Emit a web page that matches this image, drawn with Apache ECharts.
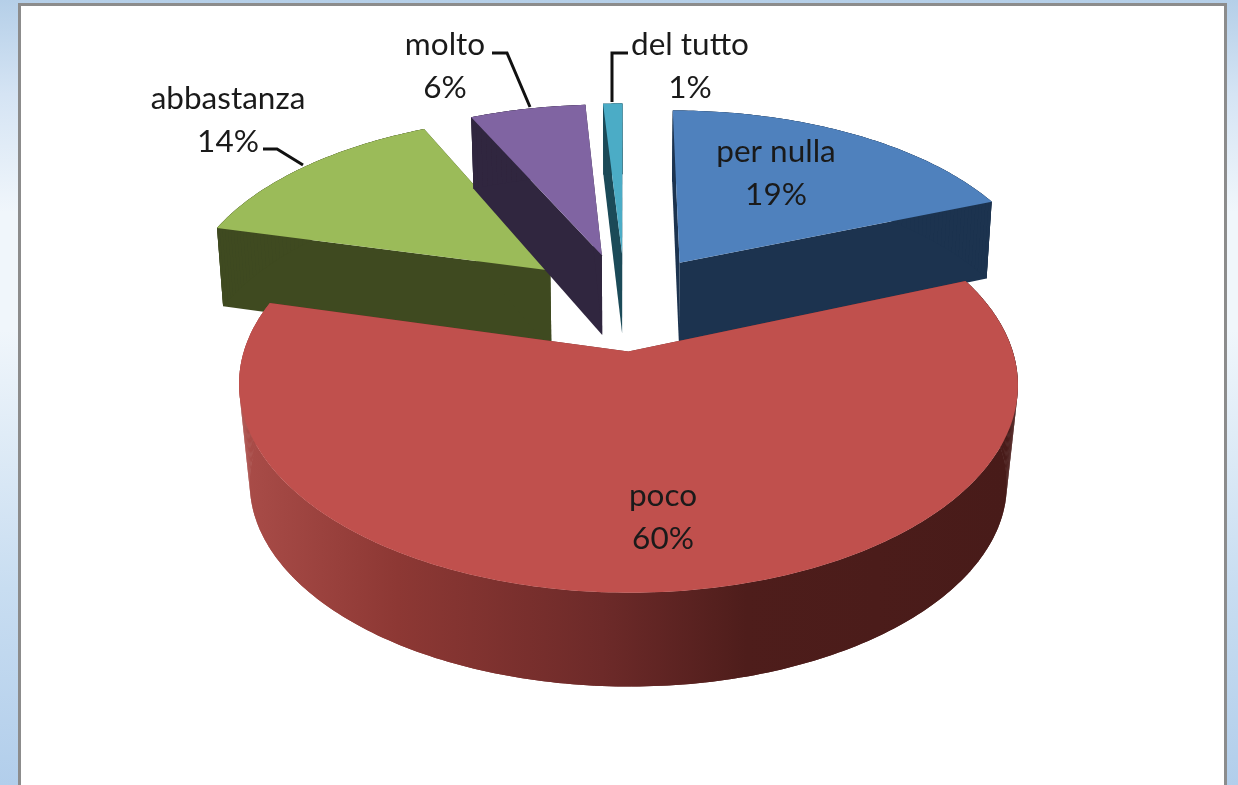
<!DOCTYPE html>
<html><head><meta charset="utf-8">
<style>html,body{margin:0;padding:0;background:#fff;overflow:hidden}#c{width:1238px;height:785px;filter:blur(0.5px)}</style>
<script src="https://cdn.jsdelivr.net/npm/echarts@6/dist/echarts.min.js"></script>
</head><body><div id="c"></div>
<script>
// Data
const categories = ['per nulla', 'poco', 'abbastanza', 'molto', 'del tutto'];
const values = [19, 60, 14, 6, 1];
// Styles
const topColors = ['#4f81bd', '#c0504d', '#9bbb59', '#8064a2', '#4bacc6'];
const sideColors = ['#1c334f', '#6d2a29', '#3f4a20', '#30263f', '#1b4a58'];
const drawOrder = [3, 8, 1, 5, 6];
// Projection of the tilted pie (plane units -> screen px)
const CX = 628, CY = 301, RX = 369, RY = 186.8, PERSP = 0.1535, EXPLODE = 0.262;
const depthBase = [82, 102, 82, 82, 82];
const depthSlope = [9, -6.5, 9, 9, 9];
const bottomScale = [0.986, 0.972, 0.985, 0.985, 0.985];
const sliceShiftX = [-1, -6, -5, -3, -3];
const sliceShiftY = [1, -0.5, 0, 0, 0];
const FONT = 'Lato, Carlito, "Noto Sans", sans-serif';
const labelCentres = [[776, 173], [663, 517], [228, 120], [445, 66], [690, 66]];
const leaderLines = [null, null,
  [[263, 149], [277, 149], [303, 165]],
  [[492, 53], [507, 53], [530, 107]],
  [[628, 53], [612, 53], [612, 102]]];

const total = values.reduce((a, b) => a + b, 0);
const starts = []; values.reduce((acc, v, i) => { starts[i] = acc; return acc + v; }, 0);

function renderItem(params, api) {
  const i = params.dataIndex, v = api.value(0);
  const cx = CX + sliceShiftX[i], cy = CY + sliceShiftY[i];
  const project = (px, py) => {
    const s = 1 / (1 - PERSP * py);
    return { x: cx + RX * px * s, y: cy + RY * py * s, py };
  };
  const lower = p => [cx + (p.x - cx) * bottomScale[i], p.y + depthBase[i] + depthSlope[i] * p.py];
  const xy = p => [p.x, p.y];
  const a0 = starts[i] / total * 2 * Math.PI, a1 = (starts[i] + v) / total * 2 * Math.PI;
  const mid = (a0 + a1) / 2;
  const ox = EXPLODE * Math.sin(mid), oy = -EXPLODE * Math.cos(mid);
  const apex = project(ox, oy);
  const arc = [];
  const n = Math.max(8, Math.ceil((a1 - a0) * 60));
  for (let k = 0; k <= n; k++) {
    const a = a0 + (a1 - a0) * k / n;
    arc.push(project(ox + Math.sin(a), oy - Math.cos(a)));
  }
  const first = arc[0], last = arc[arc.length - 1];
  const wallFill = i === 1
    ? { type: 'linear', x: 245, y: 0, x2: 1005, y2: 0, global: true, colorStops: [
        { offset: 0, color: '#a94c48' }, { offset: 0.2, color: '#8d3834' },
        { offset: 0.47, color: '#6d2a29' }, { offset: 0.66, color: '#4e1d1b' }, { offset: 1, color: '#481b19' }] }
    : sideColors[i];
  const z = drawOrder[i];
  const face = (pts, fill, zz) => ({ type: 'polygon', z2: zz, shape: { points: pts }, style: { fill } });
  const children = [
    face(arc.map(xy).concat(arc.slice().reverse().map(lower)), wallFill, z),
    face([xy(apex), xy(first), lower(first), lower(apex)], sideColors[i], z),
    face([xy(apex), xy(last), lower(last), lower(apex)], sideColors[i], z),
    face([xy(apex)].concat(arc.map(xy)), topColors[i], z + 0.5)
  ];
  // step quads fill the silhouette where the upper and lower rims separate
  for (let k = 0; k < n; k++) {
    children.push(face([xy(arc[k]), xy(arc[k + 1]), lower(arc[k + 1]), lower(arc[k])], wallFill, z + 0.1));
  }
  if (leaderLines[i]) children.push({ type: 'polyline', z2: 10, shape: { points: leaderLines[i] },
    style: { fill: null, stroke: '#111', lineWidth: 3 } });
  children.push({ type: 'text', z2: 11, x: labelCentres[i][0], y: labelCentres[i][1], style: {
    text: categories[i] + '\n' + Math.round(v / total * 100) + '%',
    fill: '#1a1a1a', font: '31.5px ' + FONT, lineHeight: 43, align: 'center', verticalAlign: 'middle' } });
  return { type: 'group', children };
}

const chart = echarts.init(document.getElementById('c'), null, { renderer: 'canvas' });
chart.setOption({
  animation: false,
  graphic: [
    { type: 'rect', z: -3, shape: { x: 0, y: 0, width: 1238, height: 785 }, style: { fill: {
      type: 'linear', x: 0, y: 0, x2: 0, y2: 1, colorStops: [
        { offset: 0, color: '#b5cfe8' }, { offset: 0.12, color: '#d5e4f4' }, { offset: 0.27, color: '#f0f6fb' },
        { offset: 0.42, color: '#f0f6fb' }, { offset: 0.75, color: '#c8ddf1' }, { offset: 1, color: '#b2ceeb' }] } } },
    { type: 'rect', z: -2, shape: { x: 18, y: 3, width: 1209, height: 790 }, style: { fill: '#8c8c8c' } },
    { type: 'rect', z: -1, shape: { x: 21, y: 6, width: 1203, height: 790 }, style: { fill: '#ffffff' } }
  ],
  series: [{
    type: 'custom', coordinateSystem: 'none', renderItem, clip: false, silent: true,
    data: values.map((v, i) => ({ name: categories[i], value: [v] }))
  }]
});
</script></body></html>
